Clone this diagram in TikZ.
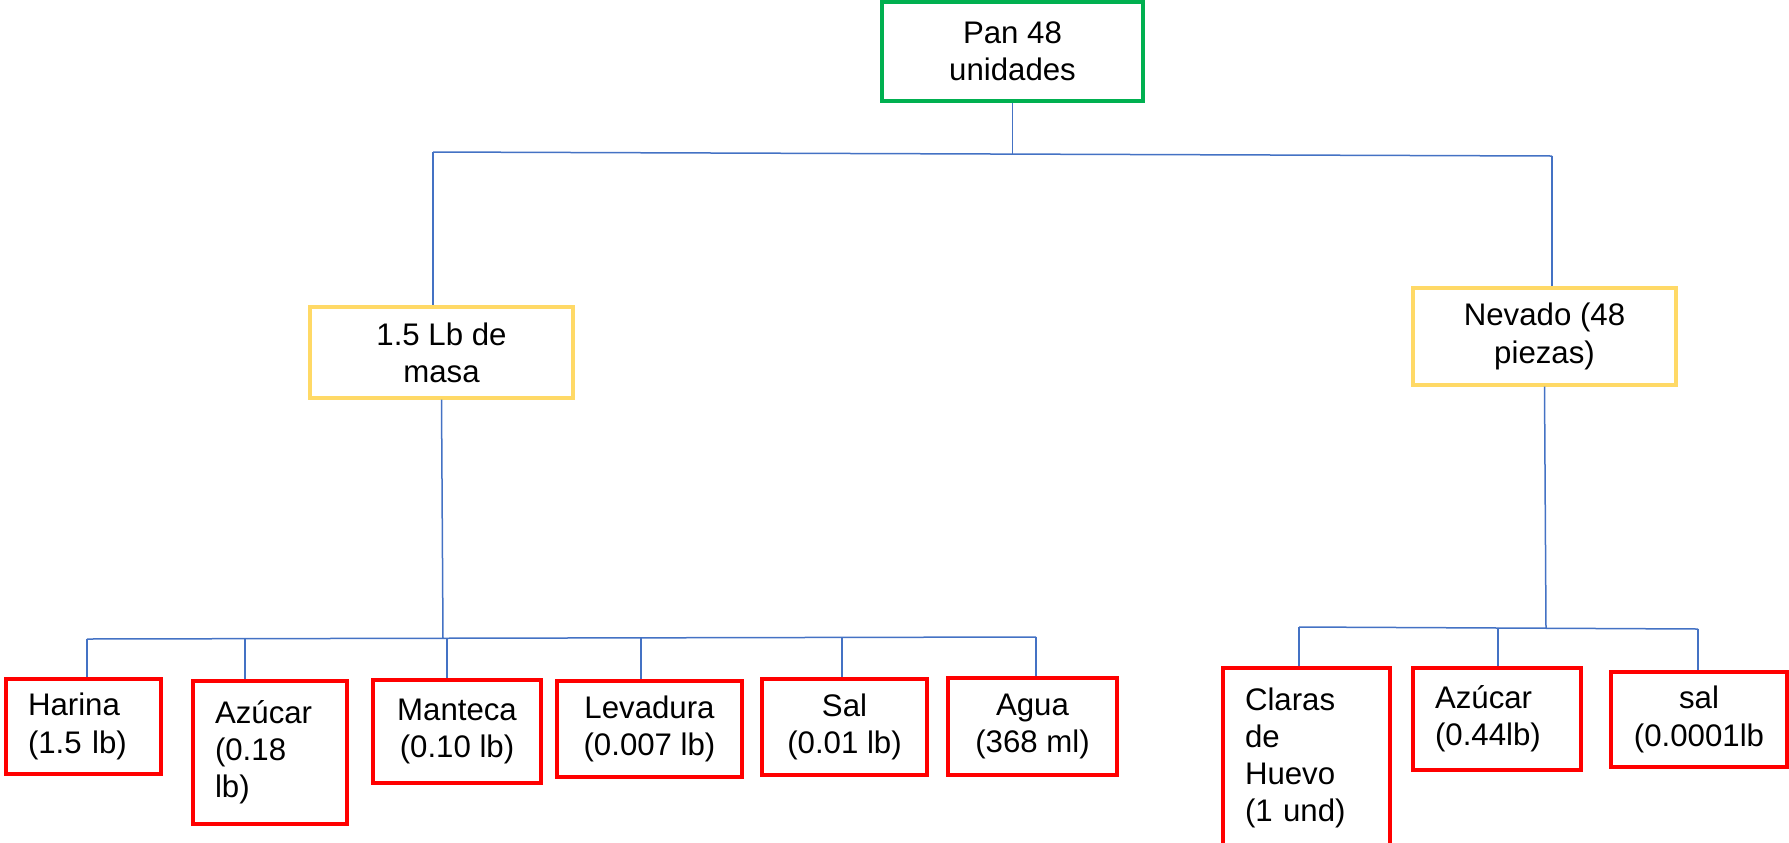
\documentclass[tikz,border=0pt]{standalone}
\usepackage{fontspec}
\setmainfont{Liberation Sans}
\definecolor{gborder}{HTML}{00B050}
\definecolor{yborder}{HTML}{FFD966}
\definecolor{rborder}{HTML}{FF0000}
\definecolor{lblue}{HTML}{4472C4}
\begin{document}
\begin{tikzpicture}[x=0.5pt,y=-0.5pt,
  box/.style={draw, line width=1.7pt, inner xsep=11pt, inner ysep=0pt,
    font=\fontsize{15.6}{18.6}\selectfont, fill=white},
  topbox/.style={box, draw=gborder, align=center},
  midbox/.style={box, draw=yborder, align=center},
  leafc/.style={box, draw=rborder, align=center},
  leafl/.style={box, draw=rborder, align=left},
  conn/.style={draw=lblue, line width=0.75pt}]
\useasboundingbox (0,0) rectangle (1789,842);

% nodes
\node[topbox, minimum width=130.5pt, minimum height=49.5pt] (pan) at (1012.5,51.5) {Pan 48\\unidades};
\node[midbox, minimum width=131.5pt, minimum height=45.5pt] (masa) at (441.5,352.5) {1.5 Lb de\\masa};
\node[midbox, minimum width=131.5pt, minimum height=48.5pt] (nev) at (1544.5,336.5) {Nevado (48\\piezas)};

\node[leafl, text width=55.5pt, minimum height=47.5pt] (harina) at (83.5,726.5) {Harina\\(1.5 lb)};
\node[leafl, text width=55pt, minimum height=71.5pt] (azu) at (270,752.5) {Azúcar\\(0.18\\lb)};
\node[leafc, minimum width=84pt, minimum height=51.5pt] (mant) at (457,731.5) {Manteca\\(0.10 lb)};
\node[leafc, minimum width=92.5pt, minimum height=48pt] (lev) at (649.5,729) {Levadura\\(0.007 lb)};
\node[leafc, minimum width=82.5pt, minimum height=48pt] (sal) at (844.5,727) {Sal\\(0.01 lb)};
\node[leafc, minimum width=84.5pt, minimum height=48.5pt] (agua) at (1032.5,726.5) {Agua\\(368 ml)};

\node[leafl, text width=61.5pt, minimum height=90pt] (claras) at (1306.5,758) {Claras\\de\\Huevo\\(1 und)};
\node[leafl, text width=62pt, minimum height=51pt] (azu2) at (1497,719) {Azúcar\\(0.44lb)};
\node[leafc, minimum width=88pt, minimum height=47.5pt] (sal2) at (1699,719.5) {sal\\(0.0001lb};

% bus coordinates
\coordinate (tL) at (433,152);
\coordinate (tR) at (1552,156);
\coordinate (tJ) at (1012.5,153.8);

\coordinate (b1) at (87,639);
\coordinate (b2) at (245,639);
\coordinate (bm) at (443,638.5);
\coordinate (b3) at (447,638.5);
\coordinate (b4) at (641,638);
\coordinate (b5) at (842,637.5);
\coordinate (b6) at (1036,637);

\coordinate (c1) at (1299,627);
\coordinate (cm) at (1546,628);
\coordinate (c2) at (1498,628);
\coordinate (c3) at (1698,629);

% connectors
\draw[conn] (pan.south) -- (tJ);
\draw[conn] (tL) -- (tR);
\draw[conn] (tL) -- (tL |- masa.north);
\draw[conn] (tR) -- (tR |- nev.north);

\draw[conn] (masa.south) -- (bm);
\draw[conn] (b1) -- (b6);
\draw[conn] (b1) -- (b1 |- harina.north);
\draw[conn] (b2) -- (b2 |- azu.north);
\draw[conn] (b3) -- (b3 |- mant.north);
\draw[conn] (b4) -- (b4 |- lev.north);
\draw[conn] (b5) -- (b5 |- sal.north);
\draw[conn] (b6) -- (b6 |- agua.north);

\draw[conn] (nev.south) -- (cm);
\draw[conn] (c1) -- (c3);
\draw[conn] (c1) -- (c1 |- claras.north);
\draw[conn] (c2) -- (c2 |- azu2.north);
\draw[conn] (c3) -- (c3 |- sal2.north);
\end{tikzpicture}
\end{document}
